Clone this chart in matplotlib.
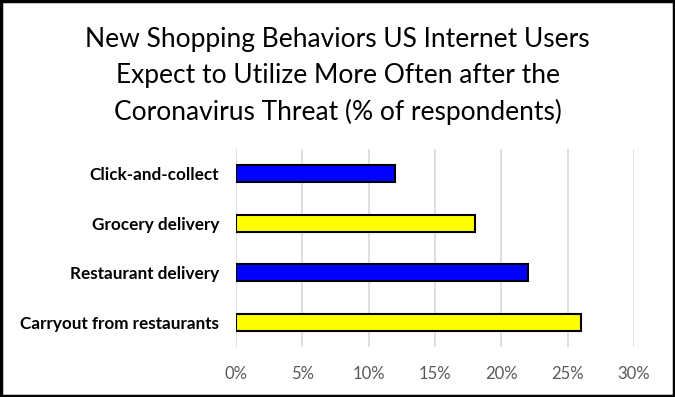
import matplotlib
matplotlib.use("Agg")
import matplotlib.pyplot as plt
from matplotlib.patches import Rectangle

categories = ["Click-and-collect", "Grocery delivery", "Restaurant delivery", "Carryout from restaurants"]
values = [12, 18, 22, 26]
colors = ["#0000FF", "#FFFF00", "#0000FF", "#FFFF00"]
xticks = [0, 5, 10, 15, 20, 25, 30]
xticklabels = ["0%", "5%", "10%", "15%", "20%", "25%", "30%"]
title = "New Shopping Behaviors US Internet Users\nExpect to Utilize More Often after the\nCoronavirus Threat (% of respondents)"

plt.rcParams['font.family'] = ['Lato', 'DejaVu Sans']

fig = plt.figure(figsize=(6.75, 3.97), dpi=100)
ax = fig.add_axes([236/675, 1 - 347/397, (634-236)/675, (347-149)/397])

ypos = list(range(len(categories)))
ax.barh(ypos, values, height=0.35, color=colors, edgecolor="black", linewidth=1.5, zorder=3)
ax.set_ylim(len(categories) - 0.5, -0.5)
ax.set_xlim(0, 30)
ax.set_yticks(ypos)
ax.set_yticklabels(categories, fontsize=12.3, fontweight="bold", color="black")
ax.set_xticks(xticks)
ax.set_xticklabels(xticklabels, fontsize=12, color="#595959")
ax.tick_params(axis="both", length=0)
ax.tick_params(axis="y", pad=12)
ax.tick_params(axis="x", pad=14)
for s in ax.spines.values():
    s.set_visible(False)
ax.grid(axis="x", color="#D9D9D9", linewidth=1.2, zorder=0)
ax.set_axisbelow(True)

fig.text(0.5, 1 - 76/397, title, ha="center", va="center", fontsize=19, linespacing=1.55, color="black")

fig.patches.append(Rectangle((0.002, 0.003), 0.996, 0.994, transform=fig.transFigure,
                             fill=False, edgecolor="black", linewidth=2.5))

fig.savefig("out.png", dpi=100)
